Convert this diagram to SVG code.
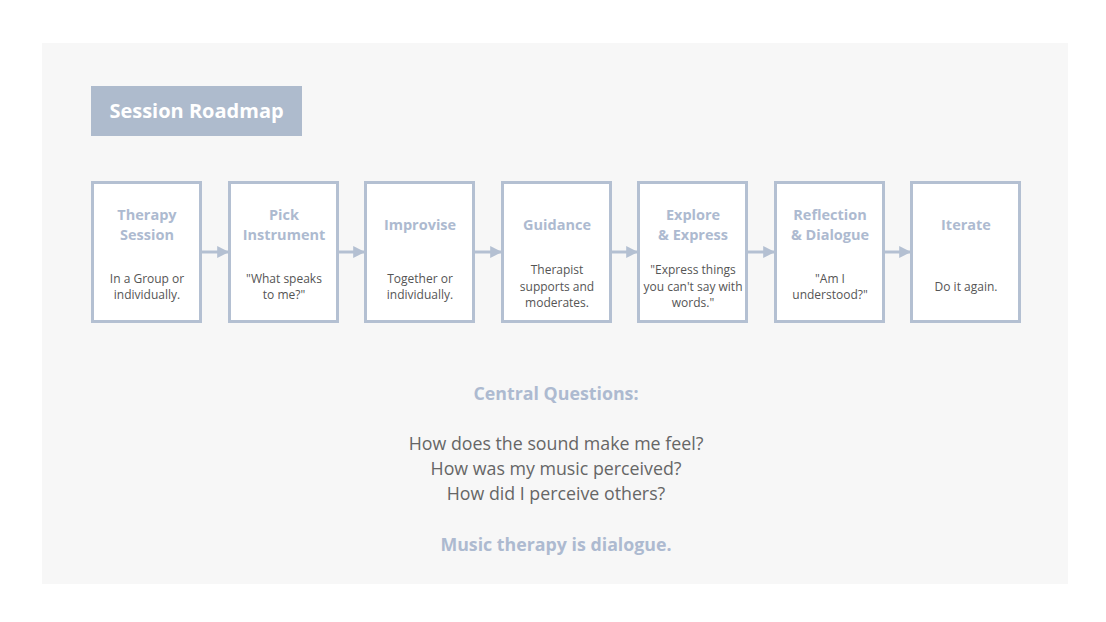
<svg xmlns="http://www.w3.org/2000/svg" width="1106" height="622" viewBox="0 0 1106 622">
<defs>
<marker id="ah" viewBox="0 0 10 10" refX="9" refY="5" markerWidth="4" markerHeight="4" markerUnits="strokeWidth" orient="auto">
<path d="M0,0 L10,5 L0,10 z" fill="#b4c0d2"/>
</marker>
<style>
.box{fill:#ffffff;stroke:#b4c0d2;stroke-width:3}
.ttl{font-family:"Open Sans","Liberation Sans",sans-serif;font-weight:bold;font-size:14.5px;fill:#adbad0;text-anchor:middle}
.bd{font-family:"Open Sans","Liberation Sans",sans-serif;font-size:12px;fill:#555555;text-anchor:middle}
.con{stroke:#b4c0d2;stroke-width:3;fill:none;marker-end:url(#ah)}
.hd{font-family:"Open Sans","Liberation Sans",sans-serif;font-weight:bold;font-size:17.8px;fill:#adbad0;text-anchor:middle}
.q{font-family:"Open Sans","Liberation Sans",sans-serif;font-size:17.8px;fill:#666666;text-anchor:middle}
</style>
</defs>
<rect x="0" y="0" width="1106" height="622" fill="#ffffff"/>
<rect x="42" y="43" width="1026" height="541" fill="#f7f7f7"/>
<g id="title">
<rect x="91" y="86" width="211" height="50" fill="#aebbcd"/>
<text x="196.5" y="118" font-family="'Open Sans','Liberation Sans',sans-serif" font-weight="bold" font-size="20" fill="#ffffff" text-anchor="middle">Session Roadmap</text>
</g>
<g id="connectors">
<line class="con" x1="202" y1="252" x2="228" y2="252"/>
<line class="con" x1="339" y1="252" x2="364" y2="252"/>
<line class="con" x1="475" y1="252" x2="501" y2="252"/>
<line class="con" x1="612" y1="252" x2="637" y2="252"/>
<line class="con" x1="748" y1="252" x2="774" y2="252"/>
<line class="con" x1="885" y1="252" x2="910" y2="252"/>
</g>
<g id="n1">
<rect class="box" x="92.5" y="182.5" width="108" height="139"/>
<text class="ttl" x="147" y="220">Therapy</text>
<text class="ttl" x="147" y="240">Session</text>
<text class="bd" x="147" y="283">In a Group or</text>
<text class="bd" x="147" y="299">individually.</text>
</g>
<g id="n2">
<rect class="box" x="229.5" y="182.5" width="108" height="139"/>
<text class="ttl" x="284" y="220">Pick</text>
<text class="ttl" x="284" y="240">Instrument</text>
<text class="bd" x="284" y="283">"What speaks</text>
<text class="bd" x="284" y="299">to me?"</text>
</g>
<g id="n3">
<rect class="box" x="365.5" y="182.5" width="108" height="139"/>
<text class="ttl" x="420" y="230">Improvise</text>
<text class="bd" x="420" y="283">Together or</text>
<text class="bd" x="420" y="299">individually.</text>
</g>
<g id="n4">
<rect class="box" x="502.5" y="182.5" width="108" height="139"/>
<text class="ttl" x="557" y="230">Guidance</text>
<text class="bd" x="557" y="274">Therapist</text>
<text class="bd" x="557" y="291">supports and</text>
<text class="bd" x="557" y="307">moderates.</text>
</g>
<g id="n5">
<rect class="box" x="638.5" y="182.5" width="108" height="139"/>
<text class="ttl" x="693" y="220">Explore</text>
<text class="ttl" x="693" y="240">&amp; Express</text>
<text class="bd" x="693" y="274">"Express things</text>
<text class="bd" x="693" y="291">you can't say with</text>
<text class="bd" x="693" y="307">words."</text>
</g>
<g id="n6">
<rect class="box" x="775.5" y="182.5" width="108" height="139"/>
<text class="ttl" x="830" y="220">Reflection</text>
<text class="ttl" x="830" y="240">&amp; Dialogue</text>
<text class="bd" x="830" y="283">"Am I</text>
<text class="bd" x="830" y="299">understood?"</text>
</g>
<g id="n7">
<rect class="box" x="911.5" y="182.5" width="108" height="139"/>
<text class="ttl" x="966" y="230">Iterate</text>
<text class="bd" x="966" y="291">Do it again.</text>
</g>
<g id="questions">
<text class="hd" x="556" y="400">Central Questions:</text>
<text class="q" x="556" y="450">How does the sound make me feel?</text>
<text class="q" x="556" y="475">How was my music perceived?</text>
<text class="q" x="556" y="500">How did I perceive others?</text>
<text class="hd" x="556" y="551">Music therapy is dialogue.</text>
</g>
</svg>
